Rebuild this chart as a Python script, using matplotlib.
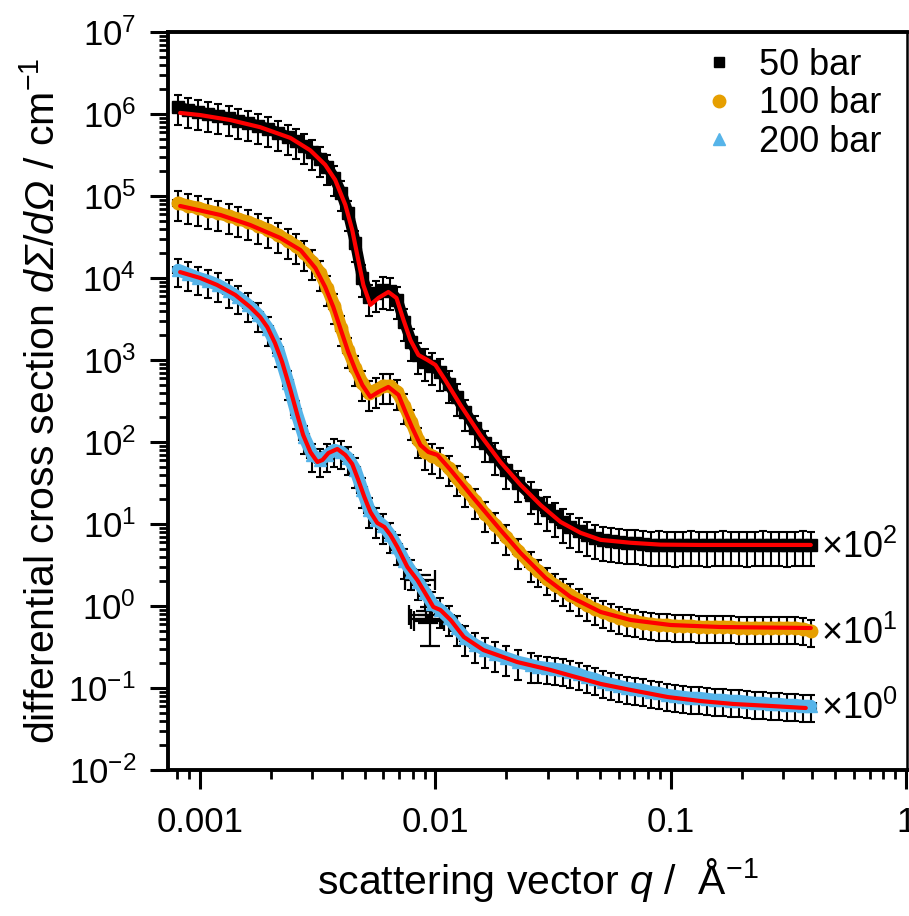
import numpy as np
import matplotlib
matplotlib.use("Agg")
import matplotlib.pyplot as plt
from matplotlib.lines import Line2D
from matplotlib.ticker import FixedFormatter, FixedLocator, LogLocator, NullFormatter

plt.rcParams["font.family"] = ["Liberation Sans", "DejaVu Sans"]
plt.rcParams["mathtext.fontset"] = "custom"
plt.rcParams["mathtext.rm"] = "Liberation Sans"
plt.rcParams["mathtext.it"] = "Liberation Sans:italic"
# sf slot used for italic greek capitals (the it slot forces them upright)
plt.rcParams["mathtext.sf"] = "Liberation Sans:italic"

# shared q grid of the measured points (1/Angstrom)
q_data = [
    0.000806, 0.000889, 0.000981, 0.00108, 0.00119, 0.00132, 0.00145, 0.00160, 0.00177, 0.00195,
    0.00215, 0.00237, 0.00256, 0.00277, 0.00300, 0.00324, 0.00347, 0.00372, 0.00398, 0.00426,
    0.00457, 0.00489, 0.00524, 0.00561, 0.00601, 0.00643, 0.00689, 0.00738, 0.00791, 0.00847,
    0.00907, 0.00971, 0.0105, 0.0114, 0.0123, 0.0134, 0.0148, 0.0163, 0.0180, 0.0200,
    0.0225, 0.0254, 0.0274, 0.0297, 0.0321, 0.0347, 0.0375, 0.0406, 0.0439, 0.0475,
    0.0514, 0.0556, 0.0601, 0.0650, 0.0703, 0.0760, 0.0822, 0.0889, 0.0962, 0.104,
    0.1125, 0.1217, 0.1316, 0.1423, 0.1539, 0.1664, 0.1800, 0.1947, 0.2106, 0.2277,
    0.2463, 0.2664, 0.2881, 0.3116, 0.3370, 0.3645, 0.3942,
]

# 50 bar, scaled x10^2
i_50 = [
    1.22e6, 1.12e6, 1.06e6, 1.00e6, 9.45e5, 8.94e5, 8.22e5, 7.77e5, 7.15e5, 6.57e5,
    5.87e5, 5.24e5, 4.69e5, 4.07e5, 3.44e5, 2.83e5, 2.26e5, 1.66e5, 1.09e5, 6.2e4,
    2.67e4, 1.0e4, 5.86e3, 6.56e3, 7.14e3, 6.94e3, 5.39e3, 2.91e3, 1.66e3, 1.15e3,
    946, 845, 714, 510, 354, 232, 148, 97, 67.5, 45.6,
    31.6, 22.6, 18.0, 14.8, 12.5, 10.6, 9.18, 8.22, 7.34, 6.75,
    6.38, 6.21, 6.03, 5.86, 5.86, 5.70, 5.55, 5.62, 5.55, 5.48,
    5.55, 5.62, 5.55, 5.48, 5.55, 5.62, 5.55, 5.55, 5.48, 5.55,
    5.62, 5.55, 5.55, 5.48, 5.55, 5.62, 5.55,
]
# 100 bar, scaled x10^1
i_100 = [
    8.22e4, 7.55e4, 7.14e4, 6.57e4, 6.21e4, 5.70e4, 5.24e4, 4.82e4, 4.31e4, 3.85e4,
    3.34e4, 2.83e4, 2.45e4, 2.02e4, 1.57e4, 1.15e4, 7.55e3, 4.56e3, 2.45e3, 1.32e3,
    798, 525, 396, 431, 482, 482, 407, 275, 175, 106,
    75.5, 67.5, 60.3, 48.2, 36.4, 26.7, 19.1, 13.2, 9.72, 6.94,
    4.69, 3.25, 2.67, 2.13, 1.80, 1.57, 1.36, 1.18, 1.03, 0.919,
    0.845, 0.776, 0.714, 0.675, 0.656, 0.620, 0.603, 0.586, 0.586, 0.570,
    0.570, 0.570, 0.554, 0.554, 0.554, 0.554, 0.554, 0.539, 0.539, 0.539,
    0.539, 0.539, 0.539, 0.539, 0.539, 0.524, 0.496,
]
# 200 bar, unscaled
i_200 = [
    1.25e4, 1.12e4, 1.0e4, 9.19e3, 8.22e3, 6.94e3, 5.86e3, 4.69e3, 3.54e3, 2.39e3,
    1.32e3, 525, 232, 115, 69.4, 60.3, 69.4, 79.8, 75.5, 63.8,
    45.6, 26.0, 14.8, 11.2, 9.46, 7.34, 5.24, 3.54, 2.60, 1.96,
    1.44, 1.06, 0.894, 0.714, 0.539, 0.407, 0.334, 0.290, 0.260, 0.232,
    0.207, 0.191, 0.180, 0.175, 0.171, 0.166, 0.157, 0.148, 0.136, 0.129,
    0.118, 0.112, 0.106, 0.100, 0.0972, 0.0946, 0.0893, 0.0869, 0.0822, 0.0798,
    0.0776, 0.0755, 0.0755, 0.0734, 0.0714, 0.0714, 0.0694, 0.0694, 0.0675, 0.0656,
    0.0656, 0.0638, 0.0638, 0.0620, 0.0620, 0.0603, 0.0603,
]
# relative uncertainties of the intensities
err_50 = [0.40] * 20 + [0.42] * 22 + [0.45] * 35
err_100 = [0.40] * 20 + [0.40] * 22 + [0.36] * 35
err_200 = [0.38] * 20 + [0.40] * 22 + [0.36] * 35
dq_rel = 0.05

# a few noisy 200 bar points around q = 0.009
q_200_extra = [0.0087, 0.0091, 0.0093, 0.0095]
i_200_extra = [2.1, 0.78, 0.70, 0.65]
err_200_extra = [0.15, 0.12, 0.12, 0.50]
dq_extra = 0.15

# model fits
fit_q_50 = [0.000822, 0.001, 0.00134, 0.00180, 0.00242, 0.00294, 0.00340, 0.00375, 0.00414, 0.00443,
            0.00470, 0.00494, 0.00529, 0.00572, 0.00631, 0.00683, 0.00731, 0.00783, 0.00847, 0.00925,
            0.0100, 0.0110, 0.0128, 0.0155, 0.0189, 0.0230, 0.0280, 0.0340, 0.0414, 0.0504,
            0.0676, 0.0906, 0.134, 0.219, 0.394]
fit_i_50 = [1.03e6, 9.7e5, 8.45e5, 6.9e5, 5.1e5, 3.6e5, 2.4e5, 1.57e5, 7.8e4, 3.85e4,
            1.66e4, 8.2e3, 4.7e3, 5.7e3, 6.75e3, 5.7e3, 3.1e3, 1.75e3, 1.15e3, 1.0e3,
            870, 570, 280, 122, 57, 30, 17, 10.6, 7.8, 6.4,
            5.9, 5.6, 5.55, 5.55, 5.55]
fit_q_100 = [0.000822, 0.00122, 0.00163, 0.00219, 0.00267, 0.00309, 0.00340, 0.00368, 0.00394, 0.00426,
             0.00457, 0.00489, 0.00529, 0.00572, 0.00631, 0.00697, 0.00746, 0.00798, 0.00863, 0.00933,
             0.0102, 0.0116, 0.0145, 0.0189, 0.0230, 0.0294, 0.0375, 0.0504, 0.0676, 0.100,
             0.163, 0.394]
fit_i_100 = [7.55e4, 5.86e4, 4.43e4, 3.08e4, 2.19e4, 1.32e4, 7.76e3, 4.43e3, 2.45e3, 1.25e3,
             755, 495, 354, 407, 469, 374, 232, 148, 91.9, 75.5,
             69.4, 45.6, 20.8, 8.45, 4.43, 2.19, 1.29, 0.845, 0.675, 0.586,
             0.554, 0.539]
fit_q_200 = [0.000822, 0.001, 0.00118, 0.00141, 0.00163, 0.00180, 0.00193, 0.00208, 0.00223, 0.00242,
             0.00259, 0.00274, 0.00294, 0.00315, 0.00331, 0.00351, 0.00383, 0.00414, 0.00443, 0.00470,
             0.00499, 0.00529, 0.00566, 0.00607, 0.00644, 0.00689, 0.0076, 0.00838, 0.00925, 0.0098,
             0.0105, 0.0116, 0.0132, 0.016, 0.0223, 0.0308, 0.0504, 0.0676, 0.097, 0.134,
             0.185, 0.267, 0.375]
fit_i_200 = [1.18e4, 1.0e4, 8.22e3, 6.21e3, 4.43e3, 3.34e3, 2.52e3, 1.61e3, 946, 431,
             213, 122, 75.5, 57.0, 60.3, 73.4, 82.2, 69.4, 53.9, 34.4,
             21.3, 14.0, 10.3, 9.18, 7.34, 5.24, 2.99, 2.07, 1.29, 0.973,
             0.894, 0.675, 0.419, 0.290, 0.207, 0.166, 0.112, 0.0946, 0.0776, 0.0693,
             0.0638, 0.0603, 0.0570]

labels = ["50 bar", "100 bar", "200 bar"]
scale_labels = [r"×10$^{2}$", r"×10$^{1}$", r"×10$^{0}$"]
x_ticks = [0.001, 0.01, 0.1, 1]
x_tick_labels = ["0.001", "0.01", "0.1", "1"]

BLACK = "#000000"
ORANGE = "#e69f00"
BLUE = "#56b4e9"
RED = "#ff0000"


def draw_points(ax, q, inten, rel, dq, color, marker, ms):
    q = np.asarray(q)
    inten = np.asarray(inten)
    rel = np.asarray(rel)
    ax.errorbar(q, inten, yerr=inten * rel, xerr=q * dq, fmt="none", ecolor="black",
                elinewidth=1.5, capsize=3, capthick=1.5, zorder=2)
    ax.plot(q, inten, "-", color=color, lw=ms * 1.0, solid_capstyle="round",
            solid_joinstyle="round", zorder=3)
    ax.plot(q, inten, ls="none", marker=marker, ms=ms, color=color, mec=color, zorder=3)


fig = plt.figure(figsize=(9.09, 9.16), dpi=100)
ax = fig.add_axes([0.1848, 0.1594, 0.8130, 0.8057])
ax.set_xscale("log")
ax.set_yscale("log")

series = [
    (i_50, err_50, BLACK, "s", 8, fit_q_50, fit_i_50),
    (i_100, err_100, ORANGE, "o", 9, fit_q_100, fit_i_100),
    (i_200, err_200, BLUE, "^", 9, fit_q_200, fit_i_200),
]
for inten, err, color, marker, ms, fq, fi in series:
    draw_points(ax, q_data, inten, err, dq_rel, color, marker, ms)
    ax.plot(fq, fi, color=RED, lw=3, solid_joinstyle="round", solid_capstyle="round", zorder=5)

ax.errorbar(q_200_extra, i_200_extra, yerr=np.array(i_200_extra) * np.array(err_200_extra),
            xerr=np.array(q_200_extra) * dq_extra, fmt="none", ecolor="black",
            elinewidth=1.6, capsize=7, capthick=1.6, zorder=2)

for (inten, *_), txt in zip(series, scale_labels):
    ax.annotate(txt, xy=(q_data[-1], inten[-1]), xytext=(7, -2), textcoords="offset points",
                ha="left", va="center", fontsize=26)

handles = [
    Line2D([], [], ls="none", marker="s", color=BLACK, ms=7.5),
    Line2D([], [], ls="none", marker="o", color=ORANGE, ms=9),
    Line2D([], [], ls="none", marker="^", color=BLUE, ms=9),
]
ax.legend(handles, labels, loc="upper right", bbox_to_anchor=(0.995, 1.008), frameon=False,
          fontsize=26, handlelength=0.8, handletextpad=0.7, labelspacing=0.1, borderaxespad=0.2)

ax.set_xlim(7.3e-4, 1.01)
ax.set_ylim(1e-2, 1e7)
ax.xaxis.set_major_locator(FixedLocator(x_ticks))
ax.xaxis.set_major_formatter(FixedFormatter(x_tick_labels))
ax.xaxis.set_minor_locator(LogLocator(base=10, subs=np.arange(2, 10), numticks=50))
ax.xaxis.set_minor_formatter(NullFormatter())
ax.yaxis.set_major_locator(LogLocator(base=10, numticks=20))
ax.yaxis.set_minor_locator(LogLocator(base=10, subs=np.arange(2, 10), numticks=200))
ax.yaxis.set_minor_formatter(NullFormatter())

ax.tick_params(which="both", direction="out", top=False, right=False)
ax.tick_params(which="major", length=13, width=2.2, labelsize=25)
ax.tick_params(axis="x", which="major", length=14, pad=12)
ax.tick_params(axis="y", which="major", pad=10)
ax.tick_params(which="minor", length=6.5, width=2.0)

for side in ["left", "bottom", "top"]:
    ax.spines[side].set_linewidth(2.8)
ax.spines["right"].set_linewidth(1.8)

ax.set_xlabel(r"scattering vector $\mathit{q}$ /  Å$^{-1}$", fontsize=29.5, labelpad=12)
ax.set_ylabel(r"differential cross section $\mathit{d}\mathsf{Σ}/\mathit{d}\mathsf{Ω}$ / cm$^{-1}$",
              fontsize=29.5, labelpad=4)

fig.savefig("out.png", dpi=100, facecolor="white")
